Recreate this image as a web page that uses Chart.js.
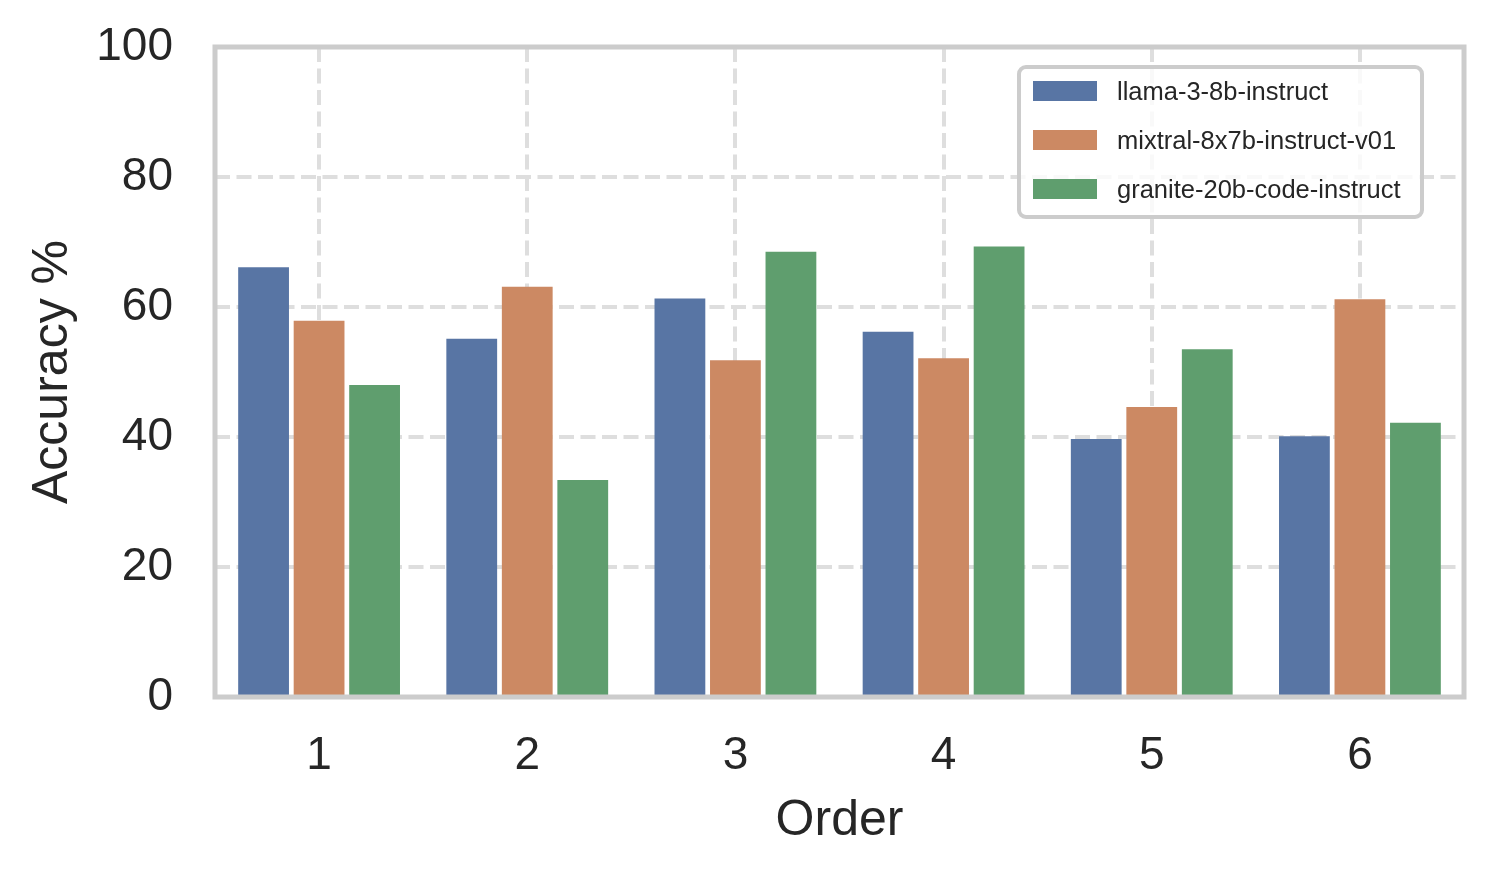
<!DOCTYPE html>
<html>
<head>
<meta charset="utf-8">
<script src="https://cdn.jsdelivr.net/npm/chart.js@4"></script>
<style>
  html, body { margin: 0; padding: 0; background: #ffffff; }
  #wrap { position: relative; width: 1494px; height: 876px; }
  #legend {
    position: absolute; box-sizing: border-box;
    width: 407px; height: 154px;
    border: 4px solid #cccccc; border-radius: 9px;
    background: rgba(255,255,255,0.8);
    font-family: "Liberation Sans", Arial, sans-serif; font-size: 25.5px; color: #262626;
  }
  #legend .row { position: absolute; left: 0; height: 0; }
  #legend .patch { position: absolute; left: 12px; width: 64px; height: 19.5px; top: -9.75px; }
  #legend .lab { position: absolute; left: 96px; top: -15px; line-height: 30px; white-space: nowrap; }
</style>
</head>
<body>
<div id="wrap">
  <canvas id="c"></canvas>
  <div id="legend"></div>
</div>
<script>
const categories = ['1', '2', '3', '4', '5', '6'];
const seriesNames = ['llama-3-8b-instruct', 'mixtral-8x7b-instruct-v01', 'granite-20b-code-instruct'];
const llama = [66.1, 55.1, 61.3, 56.2, 39.7, 40.1];
const mixtral = [57.9, 63.1, 51.8, 52.1, 44.6, 61.2];
const granite = [48.0, 33.4, 68.5, 69.3, 53.5, 42.2];
const yTicks = [0, 20, 40, 60, 80, 100];
const colors = ['#5875a4', '#cc8963', '#5f9e6e'];

const FONT = '"Liberation Sans", Arial, sans-serif';
const TEXT = '#262626';

const spinePlugin = {
  id: 'spines',
  afterDatasetsDraw(chart) {
    const a = chart.chartArea, ctx = chart.ctx;
    ctx.save();
    ctx.strokeStyle = '#cccccc';
    ctx.lineWidth = 5;
    ctx.strokeRect(a.left, a.top, a.right - a.left, a.bottom - a.top);
    ctx.restore();
  }
};

const legendPlugin = {
  id: 'htmlLegend',
  afterLayout(chart) {
    const a = chart.chartArea;
    const el = document.getElementById('legend');
    el.style.left = (a.right - 40 - 407) + 'px';
    el.style.top = (a.top + 18) + 'px';
  }
};

const legendEl = document.getElementById('legend');
const rowY = [22, 71, 120];
seriesNames.forEach((n, i) => {
  const r = document.createElement('div');
  r.className = 'row';
  r.style.top = rowY[i] + 'px';
  const p = document.createElement('div');
  p.className = 'patch';
  p.style.background = colors[i];
  const t = document.createElement('div');
  t.className = 'lab';
  t.textContent = n;
  r.appendChild(p); r.appendChild(t);
  legendEl.appendChild(r);
});

const gridOpts = {
  color: '#dedede',
  lineWidth: 4,
  drawTicks: false
};

new Chart(document.getElementById('c'), {
  type: 'bar',
  data: {
    labels: categories,
    datasets: [
      { label: seriesNames[0], data: llama, backgroundColor: colors[0] },
      { label: seriesNames[1], data: mixtral, backgroundColor: colors[1] },
      { label: seriesNames[2], data: granite, backgroundColor: colors[2] }
    ]
  },
  options: {
    responsive: true,
    maintainAspectRatio: false,
    animation: false,
    devicePixelRatio: 1,
    datasets: { bar: { categoryPercentage: 0.8, barPercentage: 0.915, borderWidth: 0 } },
    layout: { padding: { top: 47, right: 30, bottom: 0, left: 0 } },
    plugins: { legend: { display: false }, tooltip: { enabled: false } },
    scales: {
      x: {
        grid: Object.assign({}, gridOpts, { offset: false }),
        border: { display: false, dash: [15, 6.5] },
        ticks: { color: TEXT, font: { family: FONT, size: 46 }, padding: 32 },
        title: { display: true, text: 'Order', color: TEXT, font: { family: FONT, size: 50 }, padding: { top: 0, bottom: 25 } },
        afterFit(s) { s.height = 179; s.paddingLeft = 0; s.paddingRight = 0; }
      },
      y: {
        min: 0, max: 100,
        afterBuildTicks(s) { s.ticks = yTicks.map(v => ({ value: v })); },
        grid: gridOpts,
        border: { display: false, dash: [15, 6.5] },
        ticks: { color: TEXT, font: { family: FONT, size: 46 }, padding: 42 },
        title: { display: true, text: 'Accuracy %', color: TEXT, font: { family: FONT, size: 50 }, padding: { top: 23, bottom: 0 } },
        afterFit(s) { s.width = 215; s.paddingTop = 0; s.paddingBottom = 0; }
      }
    }
  },
  plugins: [spinePlugin, legendPlugin]
});
</script>
</body>
</html>
